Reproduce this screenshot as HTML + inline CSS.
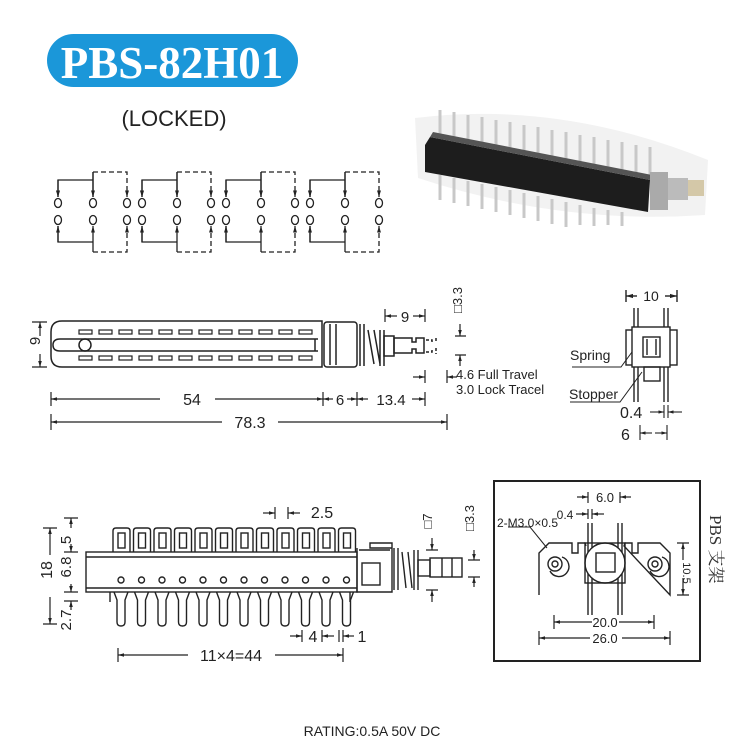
<!DOCTYPE html>
<html><head><meta charset="utf-8"><style>
html,body{margin:0;padding:0;background:#fff;}
svg{display:block;}
text{font-family:"Liberation Sans",sans-serif;fill:#222;}
</style></head><body>
<svg width="735" height="744" viewBox="0 0 735 744" xmlns="http://www.w3.org/2000/svg">
<defs>
<marker id="a" viewBox="0 0 10 10" refX="10" refY="5" markerWidth="7" markerHeight="5" orient="auto-start-reverse"><path d="M0,2 L10,5 L0,8 z" fill="#222"/></marker>
</defs>
<!-- Title -->
<rect x="47" y="34" width="251" height="53" rx="26.5" fill="#1b97d9"/>
<text x="172" y="78" text-anchor="middle" font-family="Liberation Serif" font-weight="bold" font-size="45" style="font-family:'Liberation Serif',serif;fill:#fff">PBS-82H01</text>
<text x="174" y="126" text-anchor="middle" font-size="22">(LOCKED)</text>

<!-- Photo -->
<g>
<path d="M415,118 Q560,100 708,160 L705,215 Q560,225 418,178 Z" fill="#f2f2f2"/>
<g stroke="#c8c8c8" stroke-width="3">
<path d="M440,140 v-30 M454,142 v-30 M468,145 v-30 M482,147 v-30 M496,150 v-30 M510,152 v-30 M524,155 v-30 M538,157 v-30 M552,160 v-30 M566,162 v-30 M580,165 v-30 M594,167 v-30 M608,170 v-30 M622,172 v-30 M636,175 v-30 M650,177 v-30"/>
<path d="M440,175 v25 M454,178 v25 M468,181 v25 M482,184 v25 M496,187 v25 M510,190 v25 M524,193 v25 M538,196 v25 M552,199 v25 M566,202 v25 M580,205 v20 M594,208 v18 M608,210 v15 M622,212 v14"/>
</g>
<path d="M425,145 L430,137 L650,180 L648,212 L425,172 Z" fill="#1d1d1d"/>
<path d="M430,137 L650,180 L652,175 L433,132 Z" fill="#555"/>
<rect x="650" y="172" width="18" height="38" fill="#aaa"/>
<rect x="668" y="178" width="20" height="22" fill="#bbb"/>
<rect x="688" y="180" width="16" height="16" fill="#d4c8a8"/>
</g>

<!-- Schematic -->
<g fill="none" stroke="#222" stroke-width="1.3">
<g id="sg">
<ellipse cx="58" cy="203" rx="3.5" ry="4.5"/><ellipse cx="58" cy="220" rx="3.5" ry="4.5"/>
<ellipse cx="93" cy="203" rx="3.5" ry="4.5"/><ellipse cx="93" cy="220" rx="3.5" ry="4.5"/>
<ellipse cx="127" cy="203" rx="3.5" ry="4.5"/><ellipse cx="127" cy="220" rx="3.5" ry="4.5"/>
<path d="M58,197 V180 H93 M93,197 V172" marker-start="url(#a)"/>
<path d="M58,197 V180" marker-start="url(#a)"/>
<path d="M93,197 V172" marker-start="url(#a)"/>
<path d="M93,172 H127 V197" stroke-dasharray="5,3" marker-end="url(#a)"/>
<path d="M58,226 V242 H93" /><path d="M58,226 V242" marker-start="url(#a)"/>
<path d="M93,226 V252" marker-start="url(#a)"/>
<path d="M93,252 H127 V226" stroke-dasharray="5,3" marker-end="url(#a)"/>
</g>
<use href="#sg" x="84"/><use href="#sg" x="168"/><use href="#sg" x="252"/>
</g>

<!-- Side view -->
<g fill="none" stroke="#222" stroke-width="1.5">
<path d="M322,321 H62 Q51,321 51,332 V356 Q51,367 62,367 H322 Z"/>
<path d="M318,339 H60 Q53,339 53,345 Q53,351 60,351 H318"/>
<line x1="315" y1="339" x2="315" y2="351"/>
<circle cx="85" cy="345" r="6"/>
<g stroke-width="1.2">
<rect x="79" y="330" width="13" height="4"/><rect x="99" y="330" width="13" height="4"/><rect x="119" y="330" width="13" height="4"/><rect x="139" y="330" width="13" height="4"/><rect x="159" y="330" width="13" height="4"/><rect x="179" y="330" width="13" height="4"/><rect x="199" y="330" width="13" height="4"/><rect x="219" y="330" width="13" height="4"/><rect x="239" y="330" width="13" height="4"/><rect x="259" y="330" width="13" height="4"/><rect x="279" y="330" width="13" height="4"/><rect x="299" y="330" width="13" height="4"/>
<rect x="79" y="356" width="13" height="4"/><rect x="99" y="356" width="13" height="4"/><rect x="119" y="356" width="13" height="4"/><rect x="139" y="356" width="13" height="4"/><rect x="159" y="356" width="13" height="4"/><rect x="179" y="356" width="13" height="4"/><rect x="199" y="356" width="13" height="4"/><rect x="219" y="356" width="13" height="4"/><rect x="239" y="356" width="13" height="4"/><rect x="259" y="356" width="13" height="4"/><rect x="279" y="356" width="13" height="4"/><rect x="299" y="356" width="13" height="4"/>
</g>
<rect x="324" y="322" width="33" height="45" rx="3"/>
<line x1="330" y1="324" x2="330" y2="365"/><line x1="336" y1="324" x2="336" y2="365"/>
<path d="M360,324 V366 M364,324 V366 M368,330 L374,364 M374,330 L380,364 M380,330 V366 M384,330 V366"/>
<rect x="384" y="336" width="10" height="20"/>
<path d="M394,338 H412 V342 H416 V338 H424 V353 H416 V349 H412 V353 H394 Z"/>
<path d="M426,340 H432 V344 M426,352 H432 V348 M436,338 V343 M436,348 V354" stroke-dasharray="3,2"/>
</g>
<g stroke="#222" stroke-width="1.2" fill="none">
<path d="M32,322 H47 M32,367 H47"/>
<path d="M40,322 V336" marker-start="url(#a)"/><path d="M40,367 V354" marker-start="url(#a)"/>
<path d="M385,309 V322 M425,309 V322"/>
<path d="M385,316 H397" marker-start="url(#a)"/><path d="M425,316 H413" marker-start="url(#a)"/>
<path d="M455,336 H466 M455,355 H466"/>
<path d="M460,336 V324" marker-start="url(#a)"/><path d="M460,355 V366" marker-start="url(#a)"/>
<path d="M425,370 V383 M447,370 V383"/>
<path d="M425,377 H413" marker-start="url(#a)"/><path d="M447,377 H457" marker-start="url(#a)"/>
<path d="M51,392 V406 M323,392 V406 M357,392 V406 M425,392 V406"/>
<path d="M51,399 H160" marker-start="url(#a)"/><path d="M323,399 H215" marker-start="url(#a)"/>
<path d="M323,399 H333" marker-start="url(#a)"/><path d="M357,399 H347" marker-start="url(#a)"/>
<path d="M357,399 H368" marker-start="url(#a)"/><path d="M425,399 H412" marker-start="url(#a)"/>
<path d="M51,414 V430 M447,414 V430"/>
<path d="M51,422 H222" marker-start="url(#a)"/><path d="M447,422 H278" marker-start="url(#a)"/>
</g>
<text x="44" y="345" font-size="15" text-anchor="middle" transform="rotate(-90 40 345)" dy="0">9</text>
<text x="405" y="322" font-size="15" text-anchor="middle">9</text>
<text x="462" y="300" font-size="13" text-anchor="middle" transform="rotate(-90 462 300)">□3.3</text>
<text x="456" y="379" font-size="13">4.6 Full Travel</text>
<text x="456" y="394" font-size="13">3.0 Lock Tracel</text>
<text x="192" y="405" font-size="16" text-anchor="middle">54</text>
<text x="340" y="405" font-size="15" text-anchor="middle">6</text>
<text x="391" y="405" font-size="15" text-anchor="middle">13.4</text>
<text x="250" y="428" font-size="16" text-anchor="middle">78.3</text>

<!-- Front view -->
<g fill="none" stroke="#222" stroke-width="1.4">
<path d="M634,308 V402 M638,308 V402 M664,308 V402 M668,308 V402"/>
<rect x="626" y="330" width="51" height="35" fill="#fff"/>
<rect x="632" y="327" width="38" height="40" fill="#fff"/>
<rect x="643" y="337" width="17" height="20"/>
<path d="M647,339 V355 M656,339 V355"/>
<rect x="644" y="367" width="16" height="14"/>
<path d="M626,290 V302 M677,290 V302"/>
<path d="M626,296 H637" marker-start="url(#a)"/><path d="M677,296 H665" marker-start="url(#a)"/>
<path d="M572,367 H621 L632,352" stroke-width="1"/>
<path d="M570,402 H620 L642,372" stroke-width="1"/>
<path d="M664,405 V418 M668,405 V418 M640,425 V440 M667,425 V440" stroke-width="1.1"/>
<path d="M664,412 H650" marker-start="url(#a)" stroke-width="1.1"/><path d="M668,412 H682" marker-start="url(#a)" stroke-width="1.1"/>
<path d="M640,433 H652" marker-start="url(#a)" stroke-width="1.1"/><path d="M667,433 H655" marker-start="url(#a)" stroke-width="1.1"/>
</g>
<text x="651" y="301" font-size="14" text-anchor="middle">10</text>
<text x="570" y="360" font-size="14">Spring</text>
<text x="569" y="399" font-size="14">Stopper</text>
<text x="620" y="418" font-size="16">0.4</text>
<text x="621" y="440" font-size="16">6</text>

<!-- Bottom view -->
<g fill="none" stroke="#222" stroke-width="1.4">
<g id="tab"><path d="M113,552 V531 Q113,528 116,528 H127 Q130,528 130,531 V552"/><rect x="118" y="533" width="7" height="15"/><circle cx="121" cy="580" r="3"/><path d="M114,592 L117,600 V622 Q117,626 121,626 Q125,626 125,622 V600 L128,592"/></g>
<use href="#tab" x="20.5"/><use href="#tab" x="41"/><use href="#tab" x="61.5"/><use href="#tab" x="82"/><use href="#tab" x="102.5"/><use href="#tab" x="123"/><use href="#tab" x="143.5"/><use href="#tab" x="164"/><use href="#tab" x="184.5"/><use href="#tab" x="205"/><use href="#tab" x="225.5"/>
<rect x="86" y="552" width="271" height="40"/>
<line x1="86" y1="557" x2="357" y2="557"/><line x1="86" y1="588" x2="357" y2="588"/>
<path d="M110,592 V602 M350,592 V602"/>
<path d="M357,548 V592 H392 V548 H370 V543 H392 V548"/>
<path d="M359,550 H390"/>
<rect x="362" y="563" width="18" height="22"/>
<path d="M394,548 V590 M398,548 V590 M402,552 L406,588 M408,552 L412,588 M414,550 V590 M418,550 V590"/>
<rect x="418" y="560" width="12" height="16"/>
<rect x="430" y="558" width="32" height="19"/>
<path d="M442,558 V577 M452,558 V577"/>
</g>
<g stroke="#222" stroke-width="1.2" fill="none">
<path d="M43,528 H57 M43,624 H57"/>
<path d="M50,528 V555" marker-start="url(#a)"/><path d="M50,624 V597" marker-start="url(#a)"/>
<path d="M64,518 H78 M64,552 H78 M64,592 H78 M64,601 H78"/>
<path d="M71,518 V528" marker-start="url(#a)"/><path d="M71,552 V544" marker-start="url(#a)"/>
<path d="M71,592 V584" marker-start="url(#a)"/><path d="M71,601 V610" marker-start="url(#a)"/>
<path d="M275,507 V519 M288,507 V519"/>
<path d="M275,513 H263" marker-start="url(#a)"/><path d="M288,513 H300" marker-start="url(#a)"/>
<path d="M302,630 V642 M322,630 V642 M339,630 V642 M343,630 V642"/>
<path d="M302,636 H290" marker-start="url(#a)"/><path d="M322,636 H334" marker-start="url(#a)"/><path d="M343,636 H354" marker-start="url(#a)"/>
<path d="M118,648 V662 M343,648 V662"/>
<path d="M118,655 H188" marker-start="url(#a)"/><path d="M343,655 H275" marker-start="url(#a)"/>
<path d="M426,550 H438 M426,590 H438"/>
<path d="M432,550 V538" marker-start="url(#a)"/><path d="M432,590 V602" marker-start="url(#a)"/>
<path d="M468,560 H480 M468,577 H480"/>
<path d="M474,560 V550" marker-start="url(#a)"/><path d="M474,577 V587" marker-start="url(#a)"/>
</g>
<text x="57" y="575" font-size="16" text-anchor="middle" transform="rotate(-90 52 575)">18</text>
<text x="76" y="545" font-size="15" text-anchor="middle" transform="rotate(-90 71 545)">5</text>
<text x="76" y="572" font-size="15" text-anchor="middle" transform="rotate(-90 71 572)">6.8</text>
<text x="76" y="625" font-size="15" text-anchor="middle" transform="rotate(-90 71 625)">2.7</text>
<text x="322" y="518" font-size="16" text-anchor="middle">2.5</text>
<text x="313" y="642" font-size="16" text-anchor="middle">4</text>
<text x="362" y="642" font-size="16" text-anchor="middle">1</text>
<text x="231" y="661" font-size="16" text-anchor="middle">11×4=44</text>
<text x="436" y="525" font-size="13" text-anchor="middle" transform="rotate(-90 432 525)">□7</text>
<text x="478" y="522" font-size="13" text-anchor="middle" transform="rotate(-90 474 522)">□3.3</text>

<!-- Bracket box -->
<rect x="494" y="481" width="206" height="180" fill="none" stroke="#222" stroke-width="2"/>
<g fill="none" stroke="#222" stroke-width="1.4">
<path d="M588,523 V615 M592,523 V615 M618,523 V615 M622,523 V615"/>
<path d="M539,595 V553 L549,543 H572 V553 H578 V543 H585 L586,546 M624,546 L625,543 H632 V553 H638 V543 H660 L670,553 V595 Z" fill="#fff"/>
<circle cx="605" cy="563" r="20" fill="#fff"/>
<rect x="585" y="543" width="40" height="40" fill="none"/>
<rect x="596" y="553" width="19" height="19"/>
<circle cx="555" cy="564" r="7"/><circle cx="555" cy="564" r="3"/><path d="M550,571 A10,10 0 1 0 562,557"/>
<circle cx="655" cy="564" r="7"/><circle cx="655" cy="564" r="3"/><path d="M650,571 A10,10 0 1 0 662,557"/>
</g>
<g stroke="#222" stroke-width="1.2" fill="none">
<path d="M588,492 V503 M620,492 V503"/>
<path d="M588,497 H577" marker-start="url(#a)"/><path d="M620,497 H631" marker-start="url(#a)"/>
<path d="M588,509 V519 M592,509 V519"/>
<path d="M588,514 H576" marker-start="url(#a)"/><path d="M592,514 H604" marker-start="url(#a)"/>
<path d="M508,527 H530 L547,548" stroke-width="1"/>
<path d="M554,615 V629 M654,615 V629"/>
<path d="M554,622 H592" marker-start="url(#a)"/><path d="M654,622 H619" marker-start="url(#a)"/>
<path d="M539,631 V645 M670,631 V645"/>
<path d="M539,638 H590" marker-start="url(#a)"/><path d="M670,638 H622" marker-start="url(#a)"/>
<path d="M677,543 H689 M677,595 H689"/>
<path d="M683,543 V560" marker-start="url(#a)"/><path d="M683,595 V578" marker-start="url(#a)"/>
</g>
<text x="605" y="502" font-size="13" text-anchor="middle">6.0</text>
<text x="565" y="519" font-size="12" text-anchor="middle">0.4</text>
<text x="497" y="527" font-size="12">2-M3.0×0.5</text>
<text x="605" y="627" font-size="13" text-anchor="middle">20.0</text>
<text x="605" y="643" font-size="13" text-anchor="middle">26.0</text>
<text x="687" y="569" font-size="11" text-anchor="middle" transform="rotate(90 683 569)">10.5</text>
<text x="710" y="515" font-size="17" transform="rotate(90 710 515)" style="font-family:'Liberation Serif','Noto Serif CJK SC',serif;fill:#333">PBS 支架</text>

<text x="372" y="736" font-size="14" text-anchor="middle">RATING:0.5A 50V DC</text>
</svg>
</body></html>
